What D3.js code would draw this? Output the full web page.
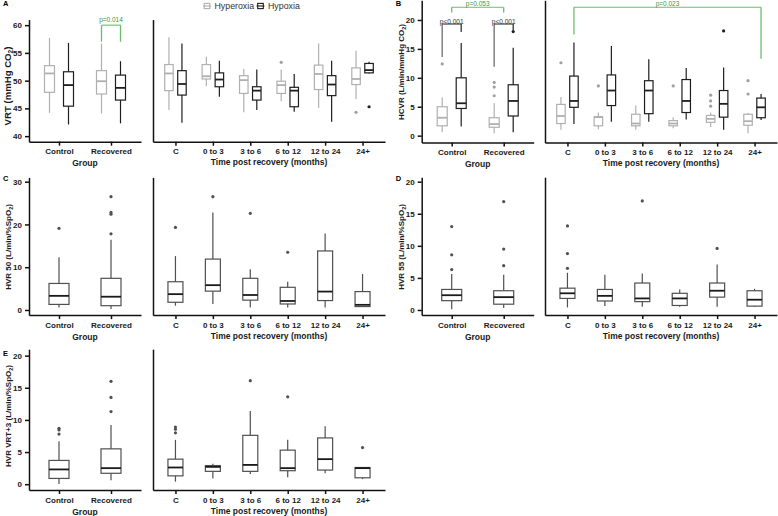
<!DOCTYPE html>
<html lang="en">
<head>
<meta charset="UTF-8">
<title>Ventilatory responses</title>
<script src="https://cdn.jsdelivr.net/npm/d3@7"></script>
<style>
  body { margin: 0; background: #fff; }
  text { font-family: Arial, "Liberation Sans", sans-serif; }
</style>
</head>
<body>
<script>
const groupCats = ["Control", "Recovered"];
const timeCats = ["C", "0 to 3", "3 to 6", "6 to 12", "12 to 24", "24+"];
const seriesNames = ["Hyperoxia", "Hypoxia"];

// every box is [low whisker, Q1, median, Q3, high whisker]
// A - VRT
const vrtGroupHyperoxia = [[44.2, 47.9, 51.3, 52.7, 57.7], [44.1, 47.6, 49.9, 51.8, 56.7]];
const vrtGroupHypoxia = [[42.1, 45.4, 49.2, 51.6, 56.8], [42.3, 46.5, 48.7, 51.0, 53.5]];
const vrtTimeHyperoxia = [[44.7, 48.2, 51.3, 52.9, 57.8], [49.0, 50.3, 50.8, 52.9, 54.3], [44.3, 47.7, 50.1, 50.9, 52.1],
  [46.3, 47.7, 49.2, 49.9, 52.0], [45.1, 48.4, 51.2, 52.8, 56.7], [46.7, 49.3, 50.3, 52.3, 55.4]];
const vrtTimeHyperoxiaOut = [[], [], [], [53.3], [], [44.3]];
const vrtTimeHypoxia = [[42.4, 47.4, 49.4, 51.8, 56.7], [47.1, 48.9, 50.2, 51.4, 53.6], [44.7, 46.5, 48.2, 48.9, 52.0],
  [44.4, 45.3, 48.2, 48.8, 51.2], [42.6, 47.3, 49.3, 50.9, 53.6], [51.3, 51.4, 51.9, 53.1, 53.4]];
const vrtTimeHypoxiaOut = [[], [], [], [], [], [45.3]];

// B - HCVR
const hcvrGroupHyperoxia = [[0.6, 1.7, 3.1, 5.0, 6.6], [0.4, 1.45, 2.0, 3.1, 5.6]];
const hcvrGroupHyperoxiaOut = [[12.4], [9.2, 8.4, 6.9]];
const hcvrGroupHypoxia = [[1.6, 4.7, 5.6, 10.0, 16.0], [0.6, 3.4, 6.0, 8.8, 15.2]];
const hcvrGroupHypoxiaOut = [[], [18.0]];
const hcvrTimeHyperoxia = [[1.0, 2.1, 3.4, 5.4, 6.7], [1.1, 1.7, 3.2, 3.3, 4.0], [1.0, 1.7, 2.1, 3.7, 5.2],
  [1.3, 1.7, 2.1, 2.6, 3.2], [1.5, 2.3, 2.9, 3.5, 4.0], [0.4, 1.8, 2.5, 3.7, 3.9]];
const hcvrTimeHyperoxiaOut = [[12.6], [8.6], [], [8.6], [7.0, 6.0, 5.1], [9.5, 7.2]];
const hcvrTimeHypoxia = [[2.0, 4.9, 6.0, 10.3, 16.1], [2.4, 5.2, 7.8, 10.5, 15.5], [2.4, 3.8, 7.8, 9.5, 13.2],
  [2.8, 4.0, 6.0, 9.7, 11.7], [1.0, 3.2, 5.5, 7.8, 11.8], [2.7, 3.1, 4.9, 6.5, 7.2]];
const hcvrTimeHypoxiaOut = [[], [], [], [], [18.1], []];

// C - HVR 50
const hvr50Group = [[0.6, 1.3, 3.3, 6.2, 12.3], [0.2, 1.0, 3.1, 7.4, 16.4]];
const hvr50GroupOut = [[19.1], [26.5, 22.8, 22.4, 17.8]];
const hvr50Time = [[1.0, 1.8, 3.7, 6.6, 12.6], [1.4, 4.4, 5.8, 11.9, 22.8], [0.6, 2.3, 3.5, 7.4, 9.5],
  [0.6, 1.4, 2.1, 5.3, 6.6], [0.6, 2.2, 4.3, 13.8, 17.9], [0.7, 0.8, 1.2, 4.3, 8.4]];
const hvr50TimeOut = [[19.3], [26.5], [22.6], [13.5], [], []];

// D - HVR 55
const hvr55Group = [[0.1, 1.45, 2.3, 3.2, 5.6], [0.3, 0.9, 2.0, 3.0, 5.5]];
const hvr55GroupOut = [[13.0, 8.6, 6.3], [16.9, 9.5, 6.9]];
const hvr55Time = [[0.4, 1.8, 2.6, 3.4, 5.8], [0.6, 1.4, 2.2, 3.2, 5.5], [0.5, 1.3, 1.8, 4.2, 5.7],
  [0.5, 0.7, 1.8, 2.6, 3.2], [0.5, 2.0, 3.0, 4.2, 7.1], [0.5, 0.6, 1.6, 3.0, 3.3]];
const hvr55TimeOut = [[13.1, 8.8, 6.5], [], [17.0], [], [9.6], []];

// E - HVR VRT+3
const hvrVrtGroup = [[0.05, 0.9, 2.3, 3.7, 6.7], [0.6, 1.7, 2.5, 5.5, 9.2]];
const hvrVrtGroupOut = [[8.7, 8.45, 7.8], [16.0, 13.5, 11.3]];
const hvrVrtTime = [[0.4, 1.3, 2.6, 3.9, 6.9], [0.9, 2.0, 2.7, 2.9, 3.2], [1.6, 2.0, 3.0, 7.6, 11.4],
  [1.1, 2.1, 2.5, 5.3, 6.9], [1.7, 2.2, 3.9, 7.2, 9.0], [0.8, 1.0, 2.5, 2.6, 2.6]];
const hvrVrtTimeOut = [[8.9, 8.55, 8.0], [], [16.1], [13.6], [], [5.7]];

const HYPEROXIA = "#b0b0b0";
const HYPOXIA = "#1e1e1e";
const SINGLE = "#505050";
const GREEN_LINE = "#6dbb6d";
const GREEN_TEXT = "#3f963f";

const svg = d3.select("body")
  .append("svg")
  .attr("width", 778)
  .attr("height", 516);

const drawBox = (g, x, w, s, out, y, color, median, sw) => {
  g.append("line")
    .attr("x1", x).attr("x2", x)
    .attr("y1", y(s[0])).attr("y2", y(s[4]))
    .attr("stroke", color).attr("stroke-width", sw);
  g.append("rect")
    .attr("x", x - w / 2)
    .attr("y", y(s[3]))
    .attr("width", w)
    .attr("height", y(s[1]) - y(s[3]))
    .attr("fill", "#fff")
    .attr("stroke", color)
    .attr("stroke-width", sw);
  g.append("line")
    .attr("x1", x - w / 2).attr("x2", x + w / 2)
    .attr("y1", y(s[2])).attr("y2", y(s[2]))
    .attr("stroke", median).attr("stroke-width", sw + 0.6);
  out.forEach(v => {
    g.append("circle")
      .attr("cx", x).attr("cy", y(v)).attr("r", 1.6)
      .attr("fill", color === HYPEROXIA ? "#a0a0a0" : color);
  });
};

// rotated axis title with subscript 2
const yTitle = (x, yc, before, after, size) => {
  const t = svg.append("text")
    .attr("transform", `translate(${x},${yc}) rotate(-90)`)
    .attr("text-anchor", "middle")
    .attr("font-size", size)
    .attr("font-weight", "bold")
    .attr("fill", "#1a1a1a");
  t.append("tspan").text(before);
  t.append("tspan").attr("dy", 2).attr("font-size", size * 0.68).text("2");
  t.append("tspan").attr("dy", -2).text(after);
};

const panel = o => {
  const y = d3.scaleLinear().domain(o.domain).range([o.bottom, o.top]);
  const xl = d3.scalePoint().domain(groupCats).range([o.left, o.left + 112]).padding(0.577);
  const xr = d3.scalePoint().domain(timeCats).range([o.right, o.right + 232]).padding(0.6);
  const g = svg.append("g");

  // axes
  const ax = [];
  ax.push(g.append("g").attr("transform", `translate(${o.left},0)`)
    .call(d3.axisLeft(y).tickValues(o.ticks).tickSize(4).tickSizeOuter(0)));
  ax.push(g.append("g").attr("transform", `translate(0,${o.bottom})`)
    .call(d3.axisBottom(xl).tickSize(4).tickSizeOuter(0)));
  ax.push(g.append("g").attr("transform", `translate(${o.right},0)`)
    .call(d3.axisLeft(y).tickValues([]).tickSizeOuter(0)));
  ax.push(g.append("g").attr("transform", `translate(0,${o.bottom})`)
    .call(d3.axisBottom(xr).tickSize(4).tickSizeOuter(0)));
  ax.forEach(a => {
    a.selectAll("path, line").attr("stroke", "#111").attr("stroke-width", 1.5);
    a.selectAll("text").attr("font-size", 8).attr("font-weight", "bold")
      .attr("fill", "#1a1a1a").attr("font-family", "Arial, 'Liberation Sans', sans-serif");
  });

  g.append("text")
    .attr("x", o.left + 56).attr("y", o.bottom + 24.5)
    .attr("text-anchor", "middle").attr("font-size", 8.5).attr("font-weight", "bold")
    .attr("fill", "#1a1a1a").text("Group");
  g.append("text")
    .attr("x", o.right + 116).attr("y", o.bottom + 23.5)
    .attr("text-anchor", "middle").attr("font-size", 8.5).attr("font-weight", "bold")
    .attr("fill", "#1a1a1a").text("Time post recovery (months)");

  yTitle(o.left - 18, o.labelY, o.title[0], o.title[1], o.titleSize || 8);

  svg.append("text")
    .attr("x", o.left - 26).attr("y", o.letterY)
    .attr("font-size", 7.5).attr("font-weight", "bold").text(o.letter);

  // boxes
  if (o.single) {
    o.groupBoxes.forEach((s, i) => drawBox(g, xl(groupCats[i]), 20, s, o.groupOut[i], y, SINGLE, "#1a1a1a", 1.2));
    o.timeBoxes.forEach((s, i) => drawBox(g, xr(timeCats[i]), 15, s, o.timeOut[i], y, SINGLE, "#1a1a1a", 1.2));
  } else {
    o.groupBoxes.forEach((pair, i) => {
      drawBox(g, xl(groupCats[i]) - 9.5, 10, pair[0], o.groupOut[i][0], y, HYPEROXIA, HYPEROXIA, 1.2);
      drawBox(g, xl(groupCats[i]) + 9.5, 10, pair[1], o.groupOut[i][1], y, HYPOXIA, HYPOXIA, 1.2);
    });
    o.timeBoxes.forEach((pair, i) => {
      drawBox(g, xr(timeCats[i]) - 6.5, 8.5, pair[0], o.timeOut[i][0], y, HYPEROXIA, HYPEROXIA, 1.2);
      drawBox(g, xr(timeCats[i]) + 6.5, 8.5, pair[1], o.timeOut[i][1], y, HYPOXIA, HYPOXIA, 1.2);
    });
  }

  // significance brackets
  (o.brackets || []).forEach(b => {
    const sc = b.side === "left" ? xl : xr;
    const off = b.side === "left" ? 9.5 : 6.5;
    const xa = sc(b.a[0]) + (b.a[1] === null ? 0 : (b.a[1] ? off : -off));
    const xb = sc(b.b[0]) + (b.b[1] === null ? 0 : (b.b[1] ? off : -off));
    const lc = b.green ? GREEN_LINE : "#333";
    g.append("line").attr("x1", xa).attr("x2", xa).attr("y1", y(b.top)).attr("y2", y(b.endA))
      .attr("stroke", b.green ? GREEN_LINE : "#888").attr("stroke-width", b.green ? 1.3 : 1.6);
    g.append("line").attr("x1", xb).attr("x2", xb).attr("y1", y(b.top)).attr("y2", y(b.endB))
      .attr("stroke", lc).attr("stroke-width", 1.3);
    g.append("line").attr("x1", xa).attr("x2", xb).attr("y1", y(b.top)).attr("y2", y(b.top))
      .attr("stroke", lc).attr("stroke-width", 1.1);
    g.append("text")
      .attr("x", (xa + xb) / 2).attr("y", y(b.top) - b.gap)
      .attr("text-anchor", "middle").attr("font-size", 6.5)
      .attr("fill", b.green ? GREEN_TEXT : "#333").text(b.label);
  });
};

const zip = (a, b) => a.map((v, i) => [v, b[i]]);
const none = n => d3.range(n).map(() => []);

panel({
  letter: "A", letterY: 6, left: 29, right: 153, top: 19.6, bottom: 141.7,
  domain: [39, 61], ticks: [40, 45, 50, 55, 60], labelY: 86, titleSize: 9.6,
  title: ["VRT (mmHg CO", ")"],
  groupBoxes: zip(vrtGroupHyperoxia, vrtGroupHypoxia),
  groupOut: zip(none(2), none(2)),
  timeBoxes: zip(vrtTimeHyperoxia, vrtTimeHypoxia),
  timeOut: zip(vrtTimeHyperoxiaOut, vrtTimeHypoxiaOut),
  brackets: [
    { side: "left", a: ["Recovered", 0], b: ["Recovered", 1], top: 60, endA: 57, endB: 57, label: "p=0.014", green: true, gap: 3.5 }
  ]
});

panel({
  letter: "B", letterY: 6, left: 421.7, right: 545, top: 0.3, bottom: 142.6,
  domain: [-1.2, 23.4], ticks: [0, 5, 10, 15, 20], labelY: 72,
  title: ["HCVR (L/min/mmHg CO", ")"],
  groupBoxes: zip(hcvrGroupHyperoxia, hcvrGroupHypoxia),
  groupOut: zip(hcvrGroupHyperoxiaOut, hcvrGroupHypoxiaOut),
  timeBoxes: zip(hcvrTimeHyperoxia, hcvrTimeHypoxia),
  timeOut: zip(hcvrTimeHyperoxiaOut, hcvrTimeHypoxiaOut),
  brackets: [
    { side: "left", a: ["Control", 0], b: ["Control", 1], top: 19.3, endA: 13.6, endB: 17.9, label: "p<0.001", green: false, gap: 0.5 },
    { side: "left", a: ["Recovered", 0], b: ["Recovered", 1], top: 19.3, endA: 11.9, endB: 18.2, label: "p<0.001", green: false, gap: 0.5 },
    { side: "left", a: ["Control", null], b: ["Recovered", null], top: 22.2, endA: 21.3, endB: 21.3, label: "p=0.053", green: true, gap: 0.8 },
    { side: "right", a: ["C", 1], b: ["24+", 1], top: 22.2, endA: 17.5, endB: 13.3, label: "p=0.023", green: true, gap: 1 }
  ]
});

panel({
  letter: "C", letterY: 180.5, left: 29, right: 153, top: 177.4, bottom: 315.1, single: true,
  domain: [-1.2, 31], ticks: [0, 10, 20, 30], labelY: 247,
  title: ["HVR 50 (L/min/%SpO", ")"],
  groupBoxes: hvr50Group, groupOut: hvr50GroupOut,
  timeBoxes: hvr50Time, timeOut: hvr50TimeOut
});

panel({
  letter: "D", letterY: 180.5, left: 421.7, right: 545, top: 177.2, bottom: 315.1, single: true,
  domain: [-0.8, 20.7], ticks: [0, 5, 10, 15, 20], labelY: 247,
  title: ["HVR 55 (L/min/%SpO", ")"],
  groupBoxes: hvr55Group, groupOut: hvr55GroupOut,
  timeBoxes: hvr55Time, timeOut: hvr55TimeOut
});

panel({
  letter: "E", letterY: 355.5, left: 29, right: 153, top: 349.2, bottom: 490, single: true,
  domain: [-0.9, 21], ticks: [0, 5, 10, 15, 20], labelY: 416,
  title: ["HVR VRT+3 (L/min/%SpO", ")"],
  groupBoxes: hvrVrtGroup, groupOut: hvrVrtGroupOut,
  timeBoxes: hvrVrtTime, timeOut: hvrVrtTimeOut
});

// legend
const legend = svg.append("g").attr("transform", "translate(203,6)");
seriesNames.forEach((name, i) => {
  const c = i === 0 ? HYPEROXIA : HYPOXIA;
  const lx = i === 0 ? 0 : 53.5;
  legend.append("line").attr("x1", lx).attr("x2", lx + 8).attr("y1", 0).attr("y2", 0)
    .attr("stroke", c).attr("stroke-width", 1.1);
  legend.append("rect").attr("x", lx + 1.2).attr("y", -2.6).attr("width", 5.6).attr("height", 5.2)
    .attr("fill", "none").attr("stroke", c).attr("stroke-width", 1.1);
  legend.append("text").attr("x", lx + 11.5).attr("y", 3.2)
    .attr("font-size", 8.8).attr("fill", "#333").text(name);
});
</script>
</body>
</html>
